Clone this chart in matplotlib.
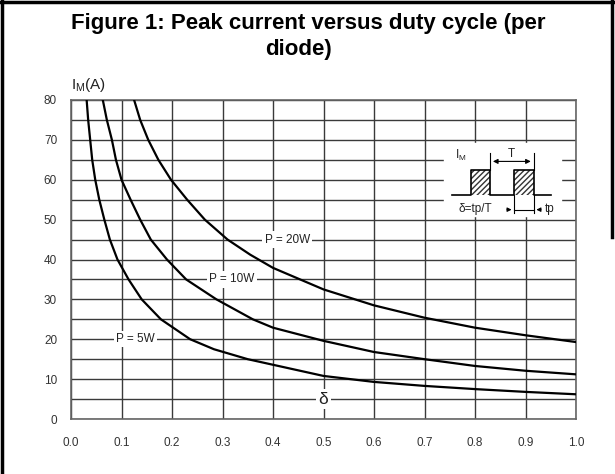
import numpy as np
import matplotlib
matplotlib.use('Agg')
import matplotlib.pyplot as plt
from matplotlib.lines import Line2D

plt.rcParams['font.family'] = ['Liberation Sans', 'DejaVu Sans']
plt.rcParams['mathtext.fontset'] = 'custom'
plt.rcParams['mathtext.rm'] = 'Liberation Sans'

# duty cycle / peak current
delta_5w = [0.031, 0.034, 0.038, 0.042, 0.048, 0.056, 0.066, 0.077, 0.092, 0.114, 0.14, 0.178, 0.236, 0.283, 0.35, 0.40, 0.50, 0.60, 0.70, 0.80, 0.90, 1.00]
im_5w = [80, 75, 70, 65, 60, 55, 50, 45, 40, 35, 30, 25, 20, 17.5, 15, 13.6, 10.8, 9.3, 8.3, 7.5, 6.8, 6.2]
delta_10w = [0.063, 0.071, 0.081, 0.089, 0.100, 0.118, 0.137, 0.158, 0.19, 0.228, 0.288, 0.36, 0.40, 0.50, 0.60, 0.70, 0.80, 0.90, 1.00]
im_10w = [80, 75, 70, 65, 60, 55, 50, 45, 40, 35, 30, 25, 22.9, 19.6, 16.8, 15.0, 13.3, 12.1, 11.2]
delta_20w = [0.125, 0.137, 0.153, 0.173, 0.198, 0.23, 0.265, 0.31, 0.355, 0.40, 0.50, 0.60, 0.70, 0.80, 0.90, 1.00]
im_20w = [80, 75, 70, 65, 60, 55, 50, 45, 41.2, 37.9, 32.5, 28.5, 25.4, 22.9, 21.0, 19.3]

labels = ['P = 5W', 'P = 10W', 'P = 20W']
xticks = [0.0, 0.1, 0.2, 0.3, 0.4, 0.5, 0.6, 0.7, 0.8, 0.9, 1.0]
yticks = [0, 10, 20, 30, 40, 50, 60, 70, 80]

W, H = 615, 474
fig = plt.figure(figsize=(W/100., H/100.), dpi=100)
ax = fig.add_axes([71./W, 1-419./H, 505./W, 319./H])

ax.set_xlim(0, 1)
ax.set_ylim(0, 80)
ax.set_xticks(xticks)
ax.set_xticklabels(['%.1f' % x for x in xticks])
ax.set_yticks(yticks)
ax.set_yticks(np.arange(5, 80, 10), minor=True)
ax.tick_params(which='both', length=0, labelsize=8.5, labelcolor='#333333')
ax.tick_params(axis='y', pad=10)
ax.tick_params(axis='x', pad=13)
ax.grid(True, which='both', color='#3a3a3a', lw=1.0)
ax.set_axisbelow(True)
for s in ax.spines.values():
	s.set_color('#666666')
	s.set_linewidth(1.2)

for d, i in [(delta_5w, im_5w), (delta_10w, im_10w), (delta_20w, im_20w)]:
	ax.plot(d, i, color='k', lw=1.6, zorder=3)

box = dict(facecolor='white', edgecolor='none', pad=1.5)
ax.text(0.127, 20, labels[0], ha='center', va='center', fontsize=8.5, color='#222222', bbox=box, zorder=4)
ax.text(0.319, 35, labels[1], ha='center', va='center', fontsize=8.5, color='#222222', bbox=box, zorder=4)
ax.text(0.428, 45, labels[2], ha='center', va='center', fontsize=8.5, color='#222222', bbox=box, zorder=4)
ax.text(0.5, 5, 'δ', ha='center', va='center', fontsize=12.5, color='#222222', bbox=dict(facecolor='white', edgecolor='none', pad=2), zorder=4)

# pulse inset
ax.fill_between([0.738, 0.97], 51, 69.3, color='white', zorder=2)
px = [0.755, 0.792, 0.792, 0.830, 0.830, 0.878, 0.878, 0.916, 0.916, 0.950]
py = [56.1, 56.1, 62.5, 62.5, 56.1, 56.1, 62.5, 62.5, 56.1, 56.1]
ax.plot(px, py, color='k', lw=1.2, zorder=5)
for x0, x1 in [(0.792, 0.830), (0.878, 0.916)]:
	ax.fill_between([x0, x1], 56.1, 62.5, facecolor='white', edgecolor='#333333', hatch='//////', lw=0, zorder=4)
ax.plot([0.830, 0.830], [62.5, 66.8], color='k', lw=0.8, zorder=5)
ax.plot([0.916, 0.916], [62.5, 66.8], color='k', lw=0.8, zorder=5)
ax.annotate('', xy=(0.830, 64.6), xytext=(0.916, 64.6), arrowprops=dict(arrowstyle='<|-|>', color='k', lw=0.8, mutation_scale=7), zorder=5)
ax.plot([0.878, 0.878], [56.1, 51.7], color='k', lw=0.8, zorder=5)
ax.plot([0.916, 0.916], [56.1, 51.7], color='k', lw=0.8, zorder=5)
ax.plot([0.878, 0.916], [52.5, 52.5], color='k', lw=0.8, zorder=5)
ax.annotate('', xy=(0.878, 52.5), xytext=(0.858, 52.5), arrowprops=dict(arrowstyle='-|>', color='k', lw=0.8, mutation_scale=6), zorder=5)
ax.annotate('', xy=(0.916, 52.5), xytext=(0.936, 52.5), arrowprops=dict(arrowstyle='-|>', color='k', lw=0.8, mutation_scale=6), zorder=5)
ax.text(0.772, 66, r'$\mathregular{I_M}$', ha='center', va='center', fontsize=8.5, color='#222222', zorder=5)
ax.text(0.871, 66.4, 'T', ha='center', va='center', fontsize=8.5, color='#222222', zorder=5)
ax.text(0.80, 52.6, 'δ=tp/T', ha='center', va='center', fontsize=8.5, color='#222222', zorder=5)
ax.text(0.938, 52.6, 'tp', ha='left', va='center', fontsize=8.5, color='#222222', zorder=5)

# titles
fig.text(308./W, 1-29./H, 'Figure 1: Peak current versus duty cycle (per', ha='center', va='baseline', fontsize=16, fontweight='bold')
fig.text(299./W, 1-55./H, 'diode)', ha='center', va='baseline', fontsize=16, fontweight='bold')
fig.text(71./W, 1-89./H, r'$\mathregular{I_M}$(A)', ha='left', va='baseline', fontsize=11, color='#222222')

# frame
fig.add_artist(Line2D([1.5/W, 1.5/W], [0, 1], color='k', lw=2.5, transform=fig.transFigure))
fig.add_artist(Line2D([0, 1], [1-1.5/H, 1-1.5/H], color='k', lw=2.5, transform=fig.transFigure))
fig.add_artist(Line2D([1-3.5/W, 1-3.5/W], [0.5, 1], color='k', lw=2.5, transform=fig.transFigure))

plt.savefig('out.png', dpi=100)
